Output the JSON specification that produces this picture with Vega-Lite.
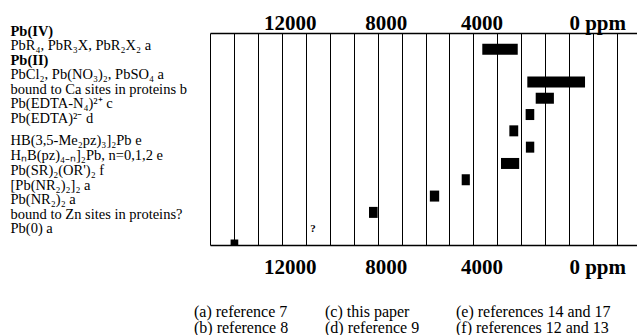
{
  "$schema": "https://vega.github.io/schema/vega-lite/v6.json",
  "width": 427,
  "height": 212,
  "autosize": {"type": "none"},
  "padding": {"left": 210, "top": 33, "right": 0, "bottom": 90},
  "background": "white",
  "config": {"view": {"stroke": null}, "font": "Liberation Serif"},
  "datasets": {
    "rows": [
      {"label": "Pb(IV)"},
      {"label": "PbR₄, PbR₃X, PbR₂X₂ a", "lo": 2150, "hi": 3630, "ref": "(a) reference 7"},
      {"label": "Pb(II)"},
      {"label": "PbCl₂, Pb(NO₃)₂, PbSO₄ a", "lo": -660, "hi": 1750, "ref": "(a) reference 7"},
      {"label": "bound to Ca sites in proteins b", "lo": 640, "hi": 1400, "ref": "(b) reference 8"},
      {"label": "Pb(EDTA-N₄)²⁺ c", "lo": 1460, "hi": 1820, "ref": "(c) this paper"},
      {"label": "Pb(EDTA)²⁻ d", "lo": 2130, "hi": 2500, "ref": "(d) reference 9"},
      {"label": "HB(3,5-Me₂pz)₃]₂Pb e", "lo": 1460, "hi": 1810, "ref": "(e) references 14 and 17"},
      {"label": "HₙB(pz)₄₋ₙ]₂Pb, n=0,1,2 e", "lo": 2090, "hi": 2850, "ref": "(e) references 14 and 17"},
      {"label": "Pb(SR)₂(OR')₂ f", "lo": 4150, "hi": 4490, "ref": "(f) references 12 and 13"},
      {"label": "[Pb(NR₂)₂]₂ a", "lo": 5430, "hi": 5820, "ref": "(a) reference 7"},
      {"label": "Pb(NR₂)₂ a", "lo": 8000, "hi": 8360, "ref": "(a) reference 7"},
      {"label": "bound to Zn sites in proteins?", "note": "?", "at": 10700},
      {"label": "Pb(0) a", "lo": 13820, "hi": 14140, "ref": "(a) reference 7"}
    ]
  },
  "data": {"name": "rows"},
  "resolve": {"axis": {"x": "independent"}},
  "layer": [
    {
      "transform": [{"filter": "isValid(datum.lo)"}],
      "mark": {"type": "bar", "size": 11, "clip": true},
      "encoding": {
        "x": {
          "field": "lo",
          "type": "quantitative",
          "scale": {"domain": [-2830, 15000], "reverse": true, "nice": false, "zero": false},
          "axis": {
            "orient": "top",
            "title": null,
            "values": [15000, 14000, 13000, 12000, 11000, 10000, 9000, 8000, 7000, 6000, 5000, 4000, 3000, 2000, 1000, 0, -1000, -2000],
            "grid": true,
            "gridColor": "black",
            "gridWidth": 1,
            "gridOpacity": 1,
            "domain": true,
            "domainColor": "black",
            "domainWidth": 1.5,
            "ticks": false,
            "tickSize": 0,
            "labelExpr": "datum.value === 0 ? '0 ppm' : (datum.value % 4000 === 0 ? format(datum.value, 'd') : '')",
            "labelFont": "Liberation Serif",
            "labelFontWeight": "bold",
            "labelFontSize": 21,
            "labelColor": "black",
            "labelBaseline": "alphabetic",
            "labelPadding": 3.5,
            "labelAlign": "center",
            "labelOffset": {"condition": {"test": "datum.value === 0", "value": 28}, "value": 8},
            "labelOverlap": false,
            "labelBound": false,
            "labelFlush": false
          }
        },
        "x2": {"field": "hi"},
        "y": {
          "field": "label",
          "type": "nominal",
          "scale": {
            "type": "point",
            "padding": 0,
            "domain": ["Pb(IV)", "PbR₄, PbR₃X, PbR₂X₂ a", "Pb(II)", "PbCl₂, Pb(NO₃)₂, PbSO₄ a", "bound to Ca sites in proteins b", "Pb(EDTA-N₄)²⁺ c", "Pb(EDTA)²⁻ d", "HB(3,5-Me₂pz)₃]₂Pb e", "HₙB(pz)₄₋ₙ]₂Pb, n=0,1,2 e", "Pb(SR)₂(OR')₂ f", "[Pb(NR₂)₂]₂ a", "Pb(NR₂)₂ a", "bound to Zn sites in proteins?", "Pb(0) a"]
          },
          "axis": {
            "orient": "left",
            "title": null,
            "domain": false,
            "ticks": false,
            "tickSize": 0,
            "grid": false,
            "labelAlign": "left",
            "labelBaseline": "middle",
            "labelPadding": 200,
            "labelFont": "Liberation Serif",
            "labelFontSize": 14.5,
            "labelColor": "black",
            "labelLimit": 0,
            "labelOverlap": false,
            "labelFontWeight": {"condition": {"test": "datum.value === 'Pb(IV)' || datum.value === 'Pb(II)'", "value": "bold"}, "value": "normal"},
            "labelOffset": {
              "condition": [
                {"test": "datum.value === 'Pb(IV)'", "value": -2},
                {"test": "datum.value === 'PbR₄, PbR₃X, PbR₂X₂ a'", "value": -3.8},
                {"test": "datum.value === 'Pb(II)'", "value": -5.6},
                {"test": "datum.value === 'PbCl₂, Pb(NO₃)₂, PbSO₄ a'", "value": -7.4},
                {"test": "datum.value === 'bound to Ca sites in proteins b'", "value": -9.2},
                {"test": "datum.value === 'Pb(EDTA-N₄)²⁺ c'", "value": -11},
                {"test": "datum.value === 'Pb(EDTA)²⁻ d'", "value": -12.8},
                {"test": "datum.value === 'HB(3,5-Me₂pz)₃]₂Pb e'", "value": -7.1},
                {"test": "datum.value === 'HₙB(pz)₄₋ₙ]₂Pb, n=0,1,2 e'", "value": -8.4},
                {"test": "datum.value === \"Pb(SR)₂(OR')₂ f\"", "value": -9.7},
                {"test": "datum.value === '[Pb(NR₂)₂]₂ a'", "value": -11},
                {"test": "datum.value === 'Pb(NR₂)₂ a'", "value": -12.8},
                {"test": "datum.value === 'bound to Zn sites in proteins?'", "value": -14.6}
              ],
              "value": -16.4
            }
          }
        },
        "color": {
          "field": "ref",
          "type": "nominal",
          "scale": {
            "domain": ["(a) reference 7", "(b) reference 8", "(c) this paper", "(d) reference 9", "(e) references 14 and 17", "(f) references 12 and 13"],
            "range": ["black", "black", "black", "black", "black", "black"]
          },
          "legend": {
            "orient": "none",
            "legendX": -32,
            "legendY": 271,
            "columns": 3,
            "direction": "vertical",
            "title": null,
            "padding": 0,
            "labelFont": "Liberation Serif",
            "labelFontSize": 16,
            "labelColor": "black",
            "labelLimit": 0,
            "labelOffset": 0,
            "symbolSize": 0,
            "symbolOpacity": 0,
            "symbolStrokeWidth": 0,
            "columnPadding": 20,
            "rowPadding": -11
          }
        }
      }
    },
    {
      "transform": [{"filter": "isValid(datum.note)"}],
      "mark": {"type": "text", "font": "Liberation Serif", "fontWeight": "bold", "fontSize": 11, "color": "black"},
      "encoding": {
        "x": {
          "field": "at",
          "type": "quantitative",
          "axis": {
            "orient": "bottom",
            "title": null,
            "values": [12000, 8000, 4000, 0],
            "grid": false,
            "domain": true,
            "domainColor": "black",
            "domainWidth": 1.5,
            "ticks": false,
            "tickSize": 0,
            "labelExpr": "datum.value === 0 ? '0 ppm' : format(datum.value, 'd')",
            "labelFont": "Liberation Serif",
            "labelFontWeight": "bold",
            "labelFontSize": 21,
            "labelColor": "black",
            "labelBaseline": "alphabetic",
            "labelPadding": 28.5,
            "labelAlign": "center",
            "labelOffset": {"condition": {"test": "datum.value === 0", "value": 28}, "value": 8},
            "labelOverlap": false,
            "labelBound": false,
            "labelFlush": false
          }
        },
        "y": {"field": "label", "type": "nominal", "scale": {"type": "point"}},
        "text": {"field": "note"}
      }
    }
  ]
}
